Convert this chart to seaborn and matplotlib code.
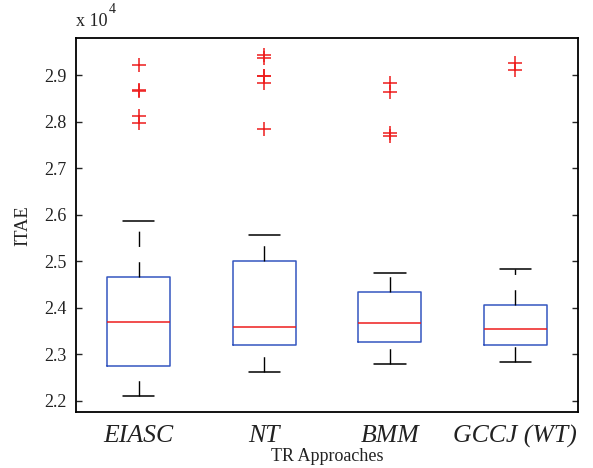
import numpy as np
import pandas as pd
import matplotlib
matplotlib.use("Agg")
import matplotlib.pyplot as plt
import seaborn as sns
from matplotlib.ticker import FuncFormatter

# ----------------------------------------------------------------------------
# Box statistics (ITAE values)
# ----------------------------------------------------------------------------
approaches   = ["EIASC", "NT", "BMM", "GCCJ (WT)"]
whisker_low  = [22090, 22610, 22790, 22820]
q1           = [22740, 23190, 23260, 23190]
median       = [23680, 23590, 23660, 23540]
q3           = [24650, 25010, 24340, 24060]
whisker_high = [25870, 25560, 24750, 24820]
outliers = [
    [29210, 28670, 28650, 28130, 27960],
    [29440, 29370, 28990, 28970, 28830, 27840],
    [28820, 28640, 27760, 27700],
    [29260, 29100],
]

# long-form table whose quartiles land exactly on the values above
rows = []
for name, lo, a, m, b, hi, out in zip(approaches, whisker_low, q1, median,
                                      q3, whisker_high, outliers):
    k = 1 + len(out)
    sample = [lo] + [a] * k + [m] * k + [b] * k + [hi] + out
    rows += [(name, v) for v in sample]
df = pd.DataFrame(rows, columns=["approach", "itae"])

# ----------------------------------------------------------------------------
# Plot
# ----------------------------------------------------------------------------
sns.set_style("white")
plt.rcParams["font.family"] = ["Liberation Serif", "DejaVu Serif"]

BLUE = "#3456c0"
RED  = "#ee1c1c"

fig = plt.figure(figsize=(5.93, 4.68), dpi=100)
ax = fig.add_axes([0.128, 0.119, 0.847, 0.799])

sns.boxplot(
    data=df, x="approach", y="itae", order=approaches,
    fill=False, color=BLUE, width=0.5, whis=1.5, ax=ax,
    boxprops=dict(color=BLUE, linewidth=1.1),
    medianprops=dict(color=RED, linewidth=1.1),
    whiskerprops=dict(color="black", linewidth=1.0, linestyle=(0, (11, 11))),
    capprops=dict(color="black", linewidth=1.1),
    flierprops=dict(marker="+", markersize=10, markeredgewidth=1.1,
                    markeredgecolor=RED, markerfacecolor=RED, linestyle="none"),
)

# lower whiskers: draw dash pattern from the cap upwards (MATLAB look)
for ln in ax.lines:
    if ln.get_linestyle() not in ("-", "None", "none", ""):
        y = np.asarray(ln.get_ydata(), dtype=float)
        if len(y) == 2 and y[1] < y[0]:
            ln.set_xdata(np.asarray(ln.get_xdata())[::-1])
            ln.set_ydata(y[::-1])

ax.set_xlim(-0.5, 3.5)
ax.set_ylim(21746, 29790)
ax.set_yticks(np.arange(22000, 29001, 1000))
ax.yaxis.set_major_formatter(FuncFormatter(lambda v, p: f"{v/1e4:.1f}"))

for s in ax.spines.values():
    s.set_visible(True)
    s.set_color("black")
    s.set_linewidth(1.3)

ax.tick_params(axis="y", direction="in", length=4, width=1, left=True,
               right=True, labelsize=13, labelcolor="#222222", pad=7)
ax.tick_params(axis="x", length=0, labelsize=18.5, labelcolor="#222222", pad=9)
for lab in ax.get_xticklabels():
    lab.set_fontstyle("italic")

ax.set_xlabel("TR Approaches", fontsize=13, color="#222222", labelpad=0)
ax.set_ylabel("ITAE", fontsize=13.3, color="#222222", labelpad=9)

fig.text(0.128, 0.944, "x 10", fontsize=13, color="#222222", ha="left",
         va="baseline")
fig.text(0.183, 0.972, "4", fontsize=10, color="#222222", ha="left",
         va="baseline")

fig.savefig("out.png", dpi=100)
